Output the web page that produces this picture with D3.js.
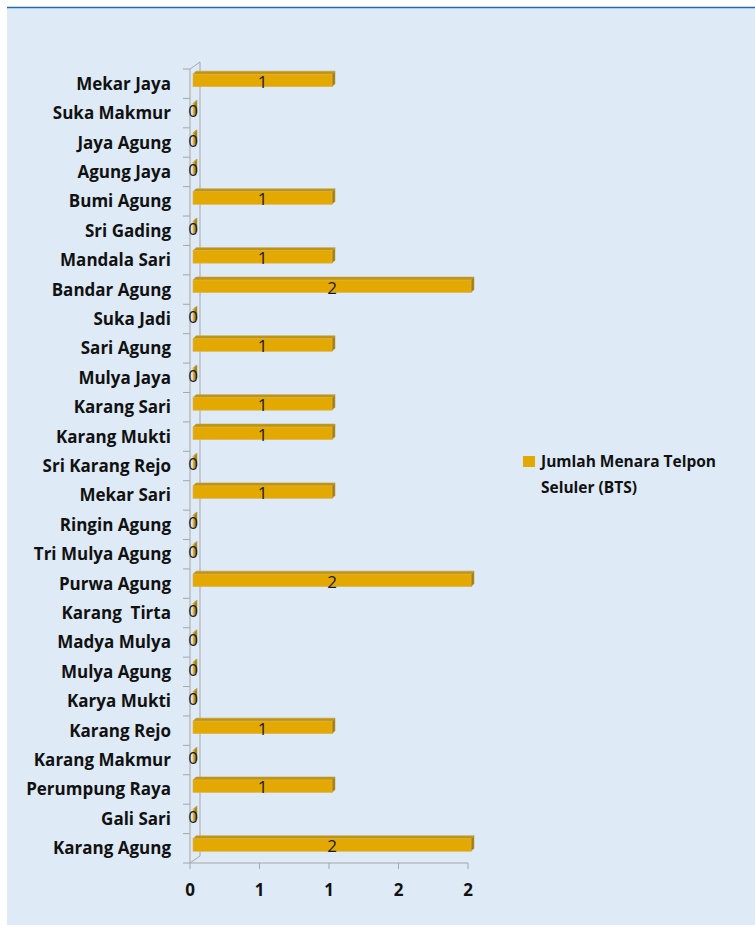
<!DOCTYPE html>
<html>
<head>
<meta charset="utf-8">
<script src="https://cdn.jsdelivr.net/npm/d3@7"></script>
<style>
  body { margin: 0; background: #fff; }
  svg { display: block; }
  .cat, .tick-label, .legend-text { font-family: "Open Sans", Lato, sans-serif; font-weight: bold; fill: #111; white-space: pre; }
  .val { font-family: "Open Sans", Lato, sans-serif; fill: #1a1a1a; }
</style>
</head>
<body>
<svg id="chart" width="755" height="925"></svg>
<script>
// categories, top to bottom as shown
const desa = ["Mekar Jaya", "Suka Makmur", "Jaya Agung", "Agung Jaya", "Bumi Agung", "Sri Gading",
    "Mandala Sari", "Bandar Agung", "Suka Jadi", "Sari Agung", "Mulya Jaya", "Karang Sari",
    "Karang Mukti", "Sri Karang Rejo", "Mekar Sari", "Ringin Agung", "Tri Mulya Agung", "Purwa Agung",
    "Karang  Tirta", "Madya Mulya", "Mulya Agung", "Karya Mukti", "Karang Rejo", "Karang Makmur",
    "Perumpung Raya", "Gali Sari", "Karang Agung"];
const jumlahBTS = [1, 0, 0, 0, 1, 0, 1, 2, 0, 1, 0, 1, 1, 0, 1, 0, 0, 2, 0, 0, 0, 0, 1, 0, 1, 0, 2];
const tickValues = [0, 0.5, 1, 1.5, 2];
const seriesName = ["Jumlah Menara Telpon", "Seluler (BTS)"];

const svg = d3.select("#chart");

// panel
svg.append("rect").attr("x", 7).attr("y", 7).attr("width", 748).attr("height", 918).attr("fill", "#DEEAF6");
svg.append("line").attr("x1", 7).attr("x2", 755).attr("y1", 7.5).attr("y2", 7.5)
    .attr("stroke", "#1F6AB4").attr("stroke-width", 1.5);

const x = d3.scaleLinear().domain([0, 2]).range([190, 468]);
const y = d3.scaleBand().domain(desa).range([69, 863]);

const DX = 3, DY = 3; // bar depth
const WALL = 10, WALLY = 7;

// back wall (left) and floor corner
const g = svg.append("g");
const wallCol = "#A6A6A6";
g.append("line").attr("x1", x(0)).attr("x2", x(0)).attr("y1", y.range()[0]).attr("y2", y.range()[1]).attr("stroke", wallCol);
g.append("line").attr("x1", x(0) + WALL).attr("x2", x(0) + WALL).attr("y1", y.range()[0] - WALLY).attr("y2", y.range()[1] - WALLY).attr("stroke", wallCol);
g.append("line").attr("x1", x(0)).attr("x2", x(0) + WALL).attr("y1", y.range()[0]).attr("y2", y.range()[0] - WALLY).attr("stroke", wallCol);
g.append("line").attr("x1", x(0)).attr("x2", x(0) + WALL).attr("y1", y.range()[1]).attr("y2", y.range()[1] - WALLY).attr("stroke", wallCol);

// category ticks on the left
const bounds = desa.map(d => y(d)).concat([y.range()[1]]);
g.selectAll("line.ytick").data(bounds).join("line")
    .attr("class", "ytick")
    .attr("x1", x(0) - 7).attr("x2", x(0))
    .attr("y1", d => d).attr("y2", d => d)
    .attr("stroke", wallCol);

// bottom axis
g.append("line").attr("x1", x(0)).attr("x2", x(2)).attr("y1", y.range()[1]).attr("y2", y.range()[1]).attr("stroke", wallCol);
g.selectAll("line.xtick").data(tickValues).join("line")
    .attr("class", "xtick")
    .attr("x1", d => x(d)).attr("x2", d => x(d))
    .attr("y1", y.range()[1]).attr("y2", y.range()[1] + 6)
    .attr("stroke", wallCol);
g.selectAll("text.tick-label").data(tickValues).join("text")
    .attr("class", "tick-label")
    .attr("x", d => x(d)).attr("y", 896)
    .attr("text-anchor", "middle")
    .attr("font-size", 17)
    .text(d => Math.round(d));

// category labels
svg.selectAll("text.cat").data(desa).join("text")
    .attr("class", "cat")
    .attr("x", 171)
    .attr("y", d => y(d) + y.bandwidth() / 2 + 6)
    .attr("text-anchor", "end")
    .attr("font-size", 17)
    .text(d => d);

// bars (front, top, side)
const bars = svg.selectAll("g.bar").data(desa).join("g").attr("class", "bar");
bars.each(function (d, i) {
    const sel = d3.select(this);
    const x0 = x(0) + DX, x1 = x(jumlahBTS[i]) + DX;
    const yc = y(d) + y.bandwidth() / 2;
    const yt = yc - 9.5, yb = yc + 3;
    const w = Math.max(x1 - x0, 1);
    sel.append("path")
        .attr("d", `M${x0},${yt} L${x0 + DX},${yt - DY} L${x0 + w + DX},${yt - DY} L${x0 + w},${yt} Z`)
        .attr("fill", "#C49300").attr("stroke", "#B8A060").attr("stroke-width", 0.6);
    sel.append("path")
        .attr("d", `M${x0 + w},${yt} L${x0 + w + DX},${yt - DY} L${x0 + w + DX},${yb - DY} L${x0 + w},${yb} Z`)
        .attr("fill", "#A87D00").attr("stroke", "#B8A060").attr("stroke-width", 0.6);
    sel.append("rect")
        .attr("x", x0).attr("y", yt).attr("width", w).attr("height", yb - yt)
        .attr("fill", "#E3A900").attr("stroke", "#D9B45A").attr("stroke-width", 0.6);
    sel.append("text")
        .attr("class", "val")
        .attr("x", jumlahBTS[i] === 0 ? x0 : (x0 + x1) / 2)
        .attr("y", yc + 4)
        .attr("text-anchor", "middle")
        .attr("font-size", 17)
        .text(jumlahBTS[i]);
});

// legend
const lg = svg.append("g").attr("transform", "translate(523,456)");
lg.append("rect").attr("width", 12).attr("height", 11).attr("fill", "#E3A900");
lg.selectAll("text").data(seriesName).join("text")
    .attr("class", "legend-text")
    .attr("x", 18)
    .attr("y", (d, i) => 11 + i * 26)
    .attr("font-size", 15.5)
    .text(d => d);
</script>
</body>
</html>
